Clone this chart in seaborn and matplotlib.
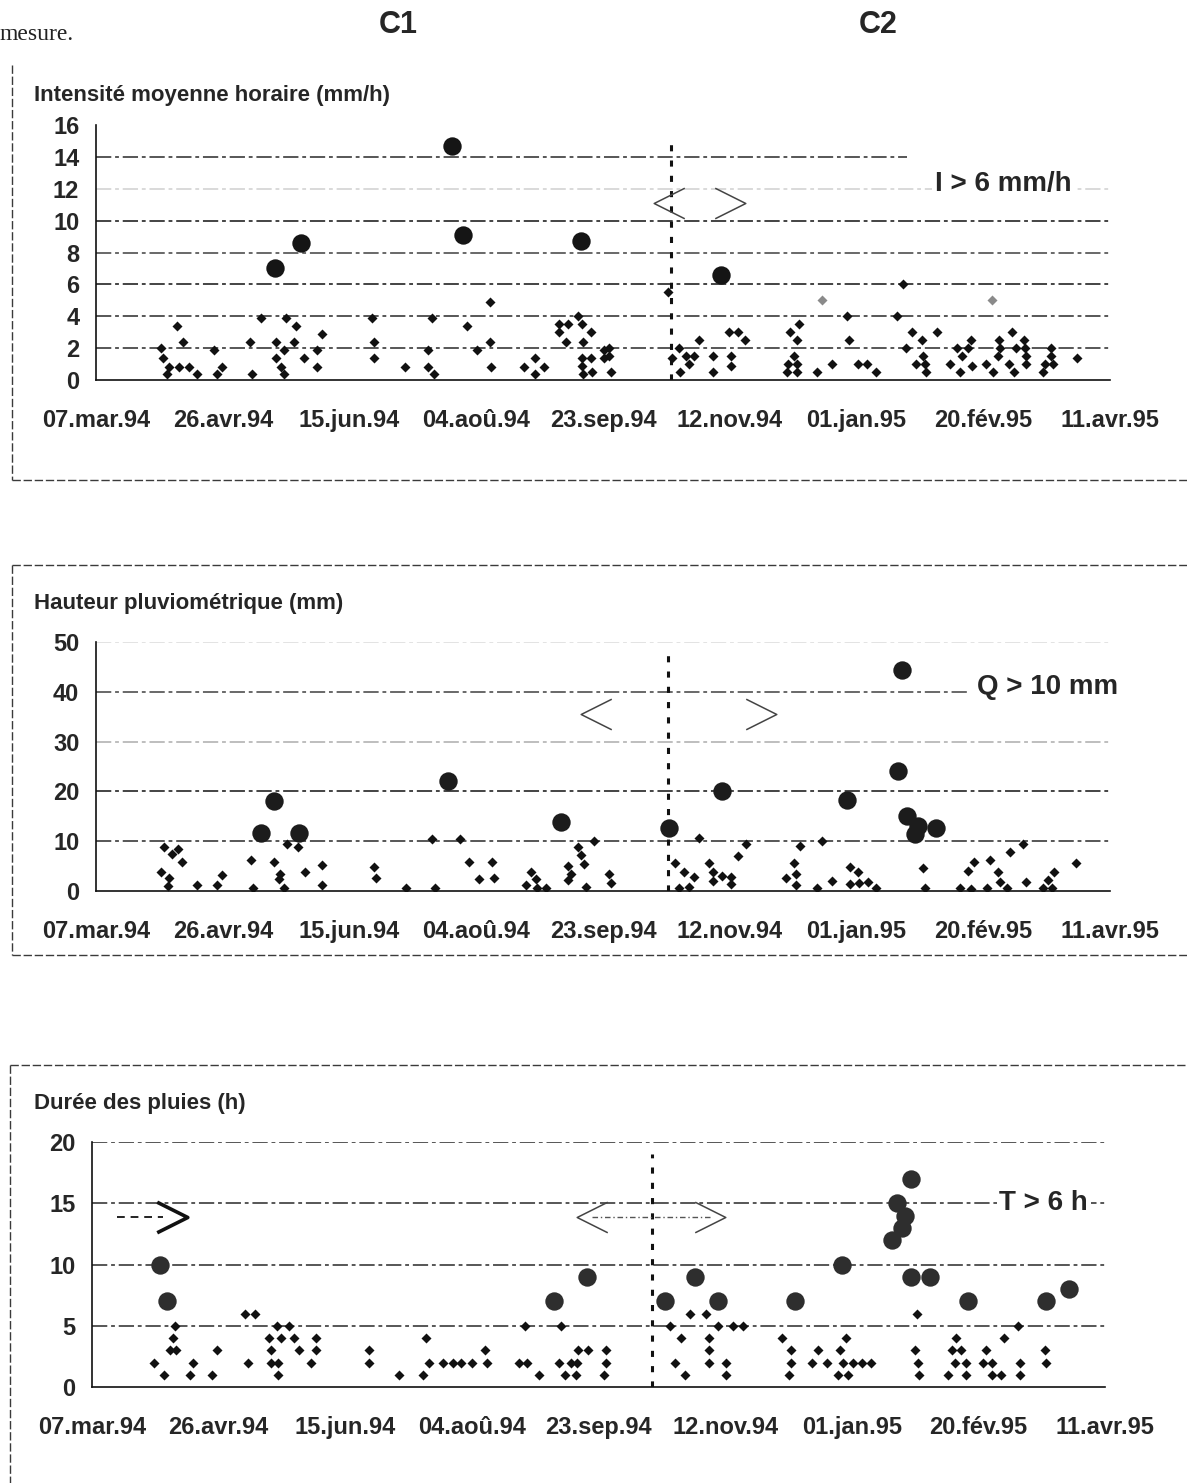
import numpy as np
import pandas as pd
import matplotlib
matplotlib.use('Agg')
import matplotlib.pyplot as plt
from matplotlib.path import Path
from matplotlib.lines import Line2D
from matplotlib import font_manager
import seaborn as sns


start = pd.Timestamp('1994-03-07')
tick_labels = ['07.mar.94', '26.avr.94', '15.jun.94', '04.aoû.94', '23.sep.94',
               '12.nov.94', '01.jan.95', '20.fév.95', '11.avr.95']

# panel 1 : intensité moyenne horaire (mm/h), days counted from 07.mar.94
int_small_day = [25.5, 26.4, 28.7, 28.0, 32.0, 34.2, 32.9, 36.8, 39.8, 46.7, 49.9, 47.6,
                 60.7, 64.9, 61.7, 71.1, 75.0, 79.0, 74.2, 71.1, 72.8, 74.2, 78.3, 82.0,
                 87.0, 89.2, 87.0, 108.7, 109.7, 109.7, 121.8, 132.5, 130.8, 130.8, 133.2,
                 146.2, 155.4, 150.1, 155.4, 156.0, 169.0, 173.0, 173.0, 176.9, 182.5, 186.0,
                 190.3, 191.6, 182.5, 185.4, 192.2, 195.2, 191.6, 195.2, 200.4, 191.9, 192.0,
                 200.4, 202.3, 202.3, 203.0, 195.5, 225.7, 229.9, 227.3, 232.6, 235.9, 233.9,
                 230.2, 237.9, 243.5, 243.5, 250.5, 250.5, 249.9, 253.2, 256.2, 277.5, 273.8,
                 276.5, 275.4, 273.0, 276.5, 272.7, 276.5, 284.4, 290.4, 297.1, 300.4, 304.1,
                 307.7, 296.4, 318.4, 316.1, 321.7, 331.6, 325.7, 319.7, 326.3, 323.6, 327.0,
                 327.4, 337.0, 339.6, 344.0, 345.0, 341.6, 345.6, 341.0, 350.9, 354.0, 356.3,
                 356.5, 356.0, 360.0, 361.3, 363.0, 366.6, 366.2, 366.9, 367.0, 362.0, 376.9,
                 376.9, 374.3, 377.5, 373.5, 386.8]
int_small_val = [2.0, 1.4, 0.8, 0.4, 3.4, 2.4, 0.8, 0.8, 0.4, 1.9, 0.8, 0.4,
                 2.4, 3.9, 0.4, 2.4, 3.9, 3.4, 1.9, 1.4, 0.8, 0.4, 2.4, 1.4,
                 1.9, 2.9, 0.8, 3.9, 2.4, 1.4, 0.8, 3.9, 1.9, 0.8, 0.4,
                 3.4, 4.9, 1.9, 2.4, 0.8, 0.8, 1.4, 0.4, 0.8, 3.5, 3.5,
                 4.0, 3.5, 3.0, 2.4, 2.4, 3.0, 1.4, 1.4, 1.9, 0.9, 0.4,
                 1.4, 2.0, 1.5, 0.5, 0.5, 5.5, 2.0, 1.4, 1.5, 1.5, 1.0,
                 0.5, 2.5, 1.5, 0.5, 1.5, 0.9, 3.0, 3.0, 2.5, 3.5, 3.0,
                 2.5, 1.5, 1.0, 1.0, 0.5, 0.5, 0.5, 1.0, 2.5, 1.0, 1.0,
                 0.5, 4.0, 6.0, 4.0, 3.0, 3.0, 2.5, 2.0, 1.5, 1.0, 1.0,
                 0.5, 1.0, 2.0, 2.0, 2.5, 1.5, 0.9, 0.5, 1.0, 0.5, 2.5,
                 2.0, 1.5, 1.0, 3.0, 2.0, 2.0, 2.5, 1.5, 1.0, 0.5, 2.0,
                 1.5, 1.0, 1.0, 0.5, 1.4]
int_faint_day = [286.4, 353.3]
int_faint_val = [5.0, 5.0]
int_big_day = [70.5, 80.8, 140.6, 144.7, 191.2, 246.7]
int_big_val = [7.0, 8.6, 14.7, 9.1, 8.7, 6.6]

# panel 2 : hauteur pluviométrique (mm)
haut_small_day = [27.0, 29.9, 32.3, 33.9, 25.7, 28.9, 28.3, 39.8, 47.6, 49.9, 61.0, 62.0,
                  70.3, 72.6, 72.0, 74.1, 75.5, 79.5, 82.4, 89.0, 89.0, 109.6, 110.4, 122.4,
                  133.6, 132.5, 143.7, 147.0, 150.9, 156.3, 157.0, 171.7, 169.8, 173.4, 174.0,
                  177.6, 186.0, 187.4, 186.3, 190.3, 191.3, 192.4, 193.3, 196.3, 202.3, 203.2,
                  237.9, 256.3, 253.2, 228.3, 232.0, 236.0, 229.9, 233.9, 241.9, 243.2, 243.2,
                  247.0, 250.3, 250.3, 277.6, 286.3, 275.2, 276.3, 272.3, 276.0, 284.3, 290.3,
                  297.6, 300.5, 300.9, 304.5, 307.6, 297.6, 326.3, 327.0, 344.0, 346.5, 341.0,
                  345.3, 352.5, 356.0, 356.5, 351.6, 359.2, 360.7, 365.6, 366.9, 377.9, 373.6,
                  377.0, 375.6, 386.5]
haut_small_val = [8.9, 7.5, 8.4, 5.9, 3.8, 2.7, 1.1, 1.2, 1.2, 3.3, 6.3, 0.7,
                  5.9, 3.4, 2.5, 0.7, 9.4, 8.9, 3.8, 5.3, 1.2, 4.8, 2.6, 0.7,
                  0.7, 10.4, 10.4, 5.9, 2.5, 5.9, 2.7, 3.8, 1.2, 2.4, 0.7,
                  0.7, 2.3, 3.4, 5.0, 8.9, 7.2, 5.5, 0.9, 10.1, 3.4, 1.6,
                  10.6, 9.5, 7.0, 5.6, 3.9, 2.9, 0.7, 0.8, 5.6, 3.9, 2.0,
                  3.1, 2.9, 1.4, 9.0, 10.0, 5.6, 3.4, 2.6, 1.2, 0.7, 2.0,
                  4.9, 3.8, 1.6, 1.9, 0.7, 1.4, 4.7, 0.7, 4.1, 5.8, 0.7,
                  0.5, 6.3, 3.8, 1.9, 0.7, 0.7, 7.9, 9.4, 1.9, 3.9, 0.7,
                  0.7, 2.2, 5.6]
haut_big_day = [65.1, 70.3, 80.1, 139.0, 183.5, 225.9, 246.9, 296.4, 316.2, 318.1,
                320.0, 324.4, 323.0, 331.2]
haut_big_val = [11.6, 18.1, 11.6, 22.1, 13.9, 12.6, 20.1, 18.2, 24.0, 44.4,
                15.1, 13.1, 11.5, 12.6]

# panel 3 : durée des pluies (h)
duree_small_day = [24.4, 28.5, 31.8, 30.7, 33.3, 32.7, 38.5, 39.7, 47.2, 49.2, 60.3, 64.5,
                   61.5, 70.8, 69.7, 73.0, 74.7, 77.7, 79.8, 70.8, 73.5, 73.5, 81.7, 86.5,
                   88.5, 88.5, 109.4, 109.4, 121.4, 130.7, 131.9, 133.0, 138.7, 142.4, 145.7,
                   150.2, 155.2, 155.9, 168.7, 171.7, 170.9, 176.6, 184.4, 186.7, 189.0, 191.6,
                   191.2, 191.9, 195.7, 185.2, 203.0, 203.0, 202.0, 236.3, 242.4, 228.4, 247.3,
                   253.0, 256.9, 232.5, 243.6, 243.6, 230.2, 243.6, 250.3, 234.0, 250.3, 272.6,
                   297.6, 275.9, 286.6, 295.4, 275.9, 284.3, 290.4, 296.5, 300.3, 304.1, 307.6,
                   275.2, 294.5, 298.5, 325.9, 325.0, 326.2, 326.5, 341.2, 339.6, 343.0, 340.7,
                   345.3, 338.1, 345.3, 360.1, 352.9, 351.8, 355.2, 355.2, 359.0, 365.5, 366.6,
                   366.6, 376.2, 376.8]
duree_small_val = [2, 1, 4, 3, 3, 5, 1, 2, 1, 3, 6, 6,
                   2, 3, 4, 5, 4, 5, 4, 2, 2, 1, 3, 2,
                   4, 3, 3, 2, 1, 1, 4, 2, 2, 2, 2,
                   2, 3, 2, 2, 2, 5, 1, 2, 1, 2, 2,
                   1, 3, 3, 5, 3, 2, 1, 6, 6, 5, 5,
                   5, 5, 4, 4, 3, 2, 2, 2, 1, 1, 4,
                   4, 3, 3, 3, 2, 2, 2, 2, 2, 2, 2,
                   1, 1, 1, 6, 3, 2, 1, 4, 3, 3, 2,
                   2, 1, 1, 4, 3, 2, 2, 1, 1, 5, 2,
                   1, 3, 2]
duree_big_day = [26.7, 29.7, 182.6, 195.5, 226.4, 238.3, 247.3, 277.4, 296.2, 316.0,
                 319.8, 320.9, 317.8, 323.5, 323.5, 330.8, 346.0, 376.8, 385.7]
duree_big_val = [10, 7, 7, 9, 7, 9, 7, 7, 10, 12, 13, 14, 15, 17, 9, 9, 7, 7, 8]

# C1 / C2 separation and the "< >" marks
split_day = [226.8, 225.5, 221.3]
chevron_day = [(226.2, 250.0), (197.3, 262.5), (197.4, 243.9)]
chevron_val = [11.1, 35.6, 13.9]
start_arrow_day = [9.7, 28.0, 31.5]
start_arrow_val = 13.9


def to_dates(days):
    return start + pd.to_timedelta(np.asarray(days, dtype=float), unit='D')


sns.set_style('white')
installed = {f.name for f in font_manager.fontManager.ttflist}
narrow = 'Liberation Sans Narrow' if 'Liberation Sans Narrow' in installed else 'Liberation Sans'
plt.rcParams['font.family'] = [narrow, 'DejaVu Sans']
plt.rcParams['font.weight'] = 'bold'
ink = '#262626'

W, H = 1187, 1483
fig = plt.figure(figsize=(W / 100, H / 100), dpi=100)


def fx(x):
    return x / W


def fy(y):
    return 1 - y / H


left_chev = Path([(1, 1), (-1, 0), (1, -1)], [Path.MOVETO, Path.LINETO, Path.LINETO])
right_chev = Path([(-1, 1), (1, 0), (-1, -1)], [Path.MOVETO, Path.LINETO, Path.LINETO])
grid_dash = (0, (10, 2.5, 2.5, 2.5))


def panel(px_left, px_right, px_top, px_bottom, ymax, ystep, small_d, small_v,
          big_d, big_v, big_color, grid, title, title_y, label, label_val, split, ax_id):
    ax = fig.add_axes([fx(px_left), fy(px_bottom), fx(px_right - px_left),
                       (px_bottom - px_top) / H])
    for level, alpha, xmax in grid:
        ax.axhline(level, xmax=xmax, color='#111111', lw=1.1, alpha=alpha,
                   linestyle=grid_dash, zorder=1)
    ax.axvline(to_dates([split])[0], ymax=0.95, color='#111111', lw=2.2,
               linestyle=(0, (2, 3)), zorder=2)
    sns.scatterplot(x=to_dates(small_d), y=small_v, marker='D', s=26, color='#111111',
                    linewidth=0, ax=ax, zorder=3)
    sns.scatterplot(x=to_dates(big_d), y=big_v, marker='o', s=175, color=big_color,
                    linewidth=0, ax=ax, zorder=4)

    cd = chevron_day[ax_id]
    ax.plot(to_dates([cd[0]]), [chevron_val[ax_id]], marker=left_chev, ms=22, mfc='none',
            mec='#444444', mew=1.1, linestyle='none', zorder=5)
    ax.plot(to_dates([cd[1]]), [chevron_val[ax_id]], marker=right_chev, ms=22, mfc='none',
            mec='#444444', mew=1.1, linestyle='none', zorder=5)

    ax.text(to_dates([label[0]])[0], label_val, label[1], ha='center', va='center',
            fontsize=20, fontweight='bold', color=ink, zorder=6,
            bbox=dict(facecolor='white', edgecolor='none', pad=2))

    ax.set_xlim(start, start + pd.Timedelta(days=400))
    ax.set_ylim(0, ymax)
    ax.set_xticks(pd.date_range(start, periods=9, freq='50D'))
    ax.set_xticklabels(tick_labels)
    ax.set_yticks(np.arange(0, ymax + ystep / 2, ystep))
    ax.set_yticklabels([f'{v:g}' for v in np.arange(0, ymax + ystep / 2, ystep)])
    for s in ['top', 'right']:
        ax.spines[s].set_visible(False)
    for s in ['left', 'bottom']:
        ax.spines[s].set_color('#111111')
        ax.spines[s].set_linewidth(1.2)
    ax.tick_params(axis='x', direction='inout', length=14, width=1.2, pad=14,
                   labelsize=17, colors=ink)
    ax.tick_params(axis='y', direction='out', length=5, width=1.0, pad=7,
                   labelsize=17, colors=ink)
    ax.set_facecolor('none')
    fig.text(fx(34), fy(title_y), title, ha='left', va='center', fontsize=16,
             fontweight='bold', color=ink)
    return ax


ax1 = panel(96, 1110, 125, 380, 16, 2, int_small_day, int_small_val, int_big_day, int_big_val,
            '#151515',
            [(2, 0.9, 1), (4, 0.9, 1), (6, 1, 1), (8, 0.8, 1), (10, 1, 1), (12, 0.2, 1),
             (14, 0.9, 0.8)],
            'Intensité moyenne horaire (mm/h)', 96, (358, 'I > 6 mm/h'), 12.3, split_day[0], 0)
sns.scatterplot(x=to_dates(int_faint_day), y=int_faint_val, marker='D', s=26, color='#8a8a8a',
                linewidth=0, ax=ax1, zorder=3)

ax2 = panel(96, 1110, 642, 891, 50, 10, haut_small_day, haut_small_val, haut_big_day,
            haut_big_val, '#1c1c1c',
            [(10, 0.9, 1), (20, 1, 1), (30, 0.35, 1), (40, 0.8, 0.86), (50, 0.15, 1)],
            'Hauteur pluviométrique (mm)', 604, (375.5, 'Q > 10 mm'), 40.9, split_day[1], 1)

ax3 = panel(92, 1105, 1142, 1387, 20, 5, duree_small_day, duree_small_val, duree_big_day,
            duree_big_val, '#2e2e2e',
            [(5, 0.9, 1), (10, 0.9, 1), (15, 0.9, 1), (20, 0.9, 1)],
            'Durée des pluies (h)', 1104, (375.8, 'T > 6 h'), 15.0, split_day[2], 2)

# dotted link between the chevrons and the starting arrow of the duration panel
ax3.plot(to_dates(chevron_day[2]), [chevron_val[2]] * 2, color='#555555', lw=1,
         linestyle=(0, (4, 2, 1, 2)), zorder=2)
ax3.plot(to_dates(start_arrow_day[:2]), [start_arrow_val] * 2, color='#222222', lw=1.4,
         linestyle=(0, (4, 3)), zorder=2)
ax3.plot(to_dates(start_arrow_day[2:]), [start_arrow_val], marker=right_chev, ms=22,
         mfc='none', mec='#111111', mew=2.6, linestyle='none', zorder=5)

for ax in (ax1, ax2, ax3):
    ax.set_xlabel('')
    ax.set_ylabel('')

# headers of the scanned page
fig.text(fx(0), fy(35), 'mesure.', ha='left', va='center', fontsize=17,
         fontweight='normal', family=['Liberation Serif', 'DejaVu Serif'], color='#222222')
fig.text(fx(398), fy(25), 'C1', ha='center', va='center', fontsize=22, fontweight='bold',
         color=ink)
fig.text(fx(878), fy(25), 'C2', ha='center', va='center', fontsize=22, fontweight='bold',
         color=ink)

# dashed frames around the three panels
frame = dict(color='#3a3a3a', lw=1.0, linestyle=(0, (6, 2)), transform=fig.transFigure)
fig.add_artist(Line2D([fx(12), fx(12)], [fy(65), fy(480)], **frame))
fig.add_artist(Line2D([fx(12), fx(1187)], [fy(480), fy(480)], **frame))
fig.add_artist(Line2D([fx(12), fx(1187)], [fy(565), fy(565)], **frame))
fig.add_artist(Line2D([fx(12), fx(12)], [fy(565), fy(955)], **frame))
fig.add_artist(Line2D([fx(12), fx(1187)], [fy(955), fy(955)], **frame))
fig.add_artist(Line2D([fx(10), fx(1187)], [fy(1065), fy(1065)], **frame))
fig.add_artist(Line2D([fx(10), fx(10)], [fy(1065), fy(1483)], **frame))

fig.savefig('out.png', dpi=100, facecolor='white')
